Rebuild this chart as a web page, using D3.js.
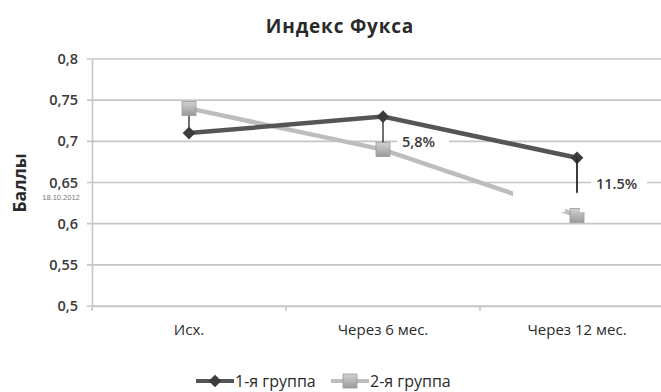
<!DOCTYPE html>
<html>
<head>
<meta charset="utf-8">
<script src="https://cdn.jsdelivr.net/npm/d3@7"></script>
<style>
  html, body { margin: 0; padding: 0; background: #fff; }
  svg { display: block; }
</style>
</head>
<body>
<svg id="chart" width="661" height="392"></svg>
<script>
// Fuchs index by observation point, two patient groups
const categories = ["Исх.", "Через 6 мес.", "Через 12 мес."];
const group1 = [0.71, 0.73, 0.68];
const group2 = [0.74, 0.69, 0.61];
const seriesNames = ["1-я группа", "2-я группа"];
const yTicks = [0.5, 0.55, 0.6, 0.65, 0.7, 0.75, 0.8];
const yTickLabels = ["0,5", "0,55", "0,6", "0,65", "0,7", "0,75", "0,8"];
// vertical difference lines: [category index, from, to]
const dropLines = [[0, 0.74, 0.71], [1, 0.73, 0.69], [2, 0.68, 0.637]];
const diffLabels = [{ cat: 1, value: 0.70, text: "5,8%" }, { cat: 2, value: 0.65, text: "11.5%" }];

const svg = d3.select("#chart");
const plotLeft = 92, plotRight = 674, plotTop = 59, plotBottom = 306;

const x = d3.scaleBand().domain(categories).range([plotLeft, plotRight]).padding(0);
const y = d3.scaleLinear().domain([0.5, 0.8]).range([plotBottom, plotTop]);
const cx = c => x(c) + x.bandwidth() / 2;

const defs = svg.append("defs");
const g2grad = defs.append("linearGradient").attr("id", "sqGrad")
  .attr("x1", 0).attr("y1", 0).attr("x2", 0).attr("y2", 1);
g2grad.append("stop").attr("offset", "0%").attr("stop-color", "#d2d2d2");
g2grad.append("stop").attr("offset", "100%").attr("stop-color", "#9a9a9a");

// title
svg.append("text").attr("x", 340).attr("y", 33).attr("text-anchor", "middle")
  .attr("font-family", "Open Sans, sans-serif").attr("font-weight", "bold")
  .attr("font-size", 19).attr("letter-spacing", 0.8).attr("fill", "#2a2a2a").text("Индекс Фукса");

// horizontal gridlines
svg.append("g").selectAll("line").data(yTicks).join("line")
  .attr("x1", plotLeft - 5).attr("x2", plotRight)
  .attr("y1", d => y(d)).attr("y2", d => y(d))
  .attr("stroke", "#c6c6c6").attr("stroke-width", 1.6);

// y axis
const yAxis = d3.axisLeft(y).tickValues(yTicks)
  .tickFormat((d, i) => yTickLabels[i]).tickSize(0).tickPadding(14);
const ya = svg.append("g").attr("transform", `translate(${plotLeft},0)`).call(yAxis);
ya.select(".domain").attr("stroke", "#c6c6c6").attr("stroke-width", 1.6);
ya.selectAll("text").attr("font-family", "Open Sans, sans-serif")
  .attr("font-size", 14.5).attr("font-weight", 600).attr("fill", "#3a3a3a");

// x axis
const xAxis = d3.axisBottom(x).tickSize(0).tickPadding(18);
const xa = svg.append("g").attr("transform", `translate(0,${plotBottom})`).call(xAxis);
xa.select(".domain").attr("stroke", "#c6c6c6").attr("stroke-width", 1.6);
xa.selectAll("text").attr("font-family", "Liberation Sans Narrow, Open Sans, sans-serif")
  .attr("font-size", 15).attr("fill", "#2a2a2a");
// category boundary ticks
svg.append("g").selectAll("line").data(categories).join("line")
  .attr("x1", d => x(d)).attr("x2", d => x(d))
  .attr("y1", plotBottom).attr("y2", plotBottom + 5)
  .attr("stroke", "#c6c6c6").attr("stroke-width", 1.6);

// axis title
svg.append("text").attr("transform", "translate(26,183) rotate(-90)")
  .attr("text-anchor", "middle").attr("font-family", "Open Sans, sans-serif")
  .attr("font-weight", "bold").attr("font-size", 17.5).attr("fill", "#2a2a2a").text("Баллы");
svg.append("text").attr("x", 61).attr("y", 200).attr("text-anchor", "middle")
  .attr("font-family", "Liberation Sans, sans-serif").attr("font-size", 7.5)
  .attr("fill", "#777").text("18.10.2012");

const line = d3.line().x((d, i) => cx(categories[i])).y(d => y(d));

// group 2 line
svg.append("path").datum(group2).attr("d", line).attr("fill", "none")
  .attr("stroke", "#bdbdbd").attr("stroke-width", 4.5);
// group 1 line
svg.append("path").datum(group1).attr("d", line).attr("fill", "none")
  .attr("stroke", "#555").attr("stroke-width", 4.5);

// difference lines
svg.append("g").selectAll("line").data(dropLines).join("line")
  .attr("x1", d => cx(categories[d[0]])).attr("x2", d => cx(categories[d[0]]))
  .attr("y1", d => y(d[1])).attr("y2", d => y(d[2]))
  .attr("stroke", "#222").attr("stroke-width", 1.3);

// group 2 markers
svg.append("g").selectAll("rect").data(group2).join("rect")
  .attr("x", (d, i) => cx(categories[i]) - 7).attr("y", d => y(d) - 7)
  .attr("width", 14).attr("height", 14)
  .attr("fill", "url(#sqGrad)").attr("stroke", "#9a9a9a").attr("stroke-width", 0.8);

// group 1 markers
svg.append("g").selectAll("path").data(group1).join("path")
  .attr("transform", (d, i) => `translate(${cx(categories[i])},${y(d)}) rotate(45)`)
  .attr("d", "M-4.5,-4.5H4.5V4.5H-4.5Z").attr("fill", "#3c3c3c");

// white patch over the lower right segment
svg.append("rect").attr("x", 513).attr("y", 186).attr("width", 52).attr("height", 26).attr("fill", "#fff");
svg.append("rect").attr("x", 580).attr("y", 186).attr("width", 60).attr("height", 26).attr("fill", "#fff");
svg.append("line").attr("x1", cx(categories[2])).attr("x2", cx(categories[2]))
  .attr("y1", y(0.68)).attr("y2", 192).attr("stroke", "#222").attr("stroke-width", 1.3);

// difference labels
const lbl = svg.append("g").selectAll("g").data(diffLabels).join("g")
  .attr("transform", d => `translate(${cx(categories[d.cat]) + 14},${y(d.value)})`);
lbl.append("rect").attr("x", 0).attr("y", -8)
  .attr("width", d => d.cat === 1 ? 52 : 56).attr("height", 17).attr("fill", "#fff");
lbl.append("text").attr("x", 5).attr("y", 6)
  .attr("font-family", "Open Sans, sans-serif").attr("font-size", 14.5)
  .attr("font-weight", 600).attr("fill", "#3a3a3a").text(d => d.text);

// legend
const legend = svg.append("g").attr("transform", "translate(0,381)");
const legItems = [
  { name: seriesNames[0], x0: 196, color: "#555", marker: "diamond" },
  { name: seriesNames[1], x0: 331, color: "#bdbdbd", marker: "square" }
];
const li = legend.selectAll("g").data(legItems).join("g")
  .attr("transform", d => `translate(${d.x0},0)`);
li.append("line").attr("x1", 0).attr("x2", 38).attr("y1", 0).attr("y2", 0)
  .attr("stroke", d => d.color).attr("stroke-width", 4);
li.filter(d => d.marker === "diamond").append("path")
  .attr("transform", "translate(19,0) rotate(45)")
  .attr("d", "M-4.5,-4.5H4.5V4.5H-4.5Z").attr("fill", "#3c3c3c");
li.filter(d => d.marker === "square").append("rect")
  .attr("x", 12).attr("y", -7).attr("width", 14).attr("height", 14)
  .attr("fill", "url(#sqGrad)").attr("stroke", "#9a9a9a").attr("stroke-width", 0.8);
li.append("text").attr("x", 39).attr("y", 6)
  .attr("font-family", "Open Sans, sans-serif").attr("font-size", 16)
  .attr("fill", "#2a2a2a").text(d => d.name);
</script>
</body>
</html>
